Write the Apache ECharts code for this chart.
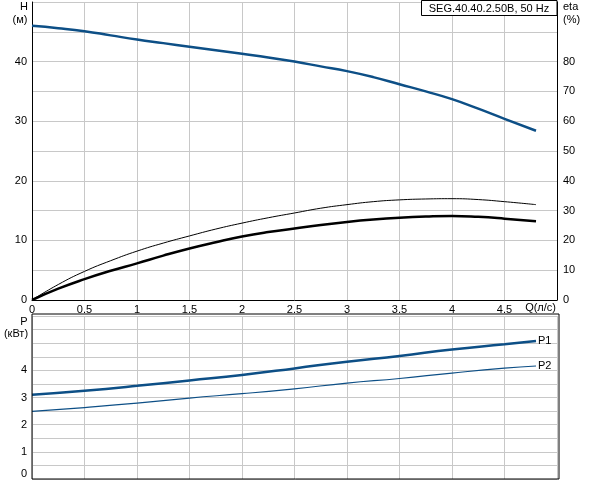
<!DOCTYPE html>
<html><head><meta charset="utf-8">
<script src="https://cdn.jsdelivr.net/npm/echarts@6/dist/echarts.min.js"></script>
<style>html,body{margin:0;padding:0;background:#fff}#c{width:592px;height:480px}</style>
</head><body><div id="c"></div>
<script>
const qH = [0,0.25,0.5,0.75,1,1.25,1.5,1.75,2,2.25,2.5,2.75,3,3.25,3.5,3.75,4,4.25,4.5,4.8];
const head = [46.0,45.6,45.1,44.4,43.7,43.1,42.5,41.9,41.3,40.7,40.0,39.2,38.4,37.4,36.2,35.0,33.7,32.1,30.4,28.4];
const etaThin = [0,5.2,9.6,13.2,16.4,19.1,21.5,23.8,25.8,27.6,29.2,30.8,32.0,33.0,33.6,33.9,34.0,33.7,33.0,32.0];
const etaThick = [0,3.8,7.0,9.8,12.3,14.9,17.3,19.4,21.3,22.8,24.0,25.2,26.2,27.0,27.6,28.0,28.2,27.9,27.3,26.4];
const qP = [0,0.5,1,1.5,2,2.5,3,3.5,4,4.5,4.8];
const p1 = [3.10,3.25,3.43,3.63,3.83,4.07,4.32,4.53,4.77,4.96,5.08];
const p2 = [2.49,2.63,2.79,2.98,3.14,3.32,3.53,3.70,3.90,4.08,4.16];
const title = 'SEG.40.40.2.50B, 50 Hz';

const FONT = 'Liberation Sans, Arial, sans-serif';
const BLUE = '#0d4f86';
const GRID = '#c8c8c8';
const zip = (a, b) => a.map((v, i) => [v, b[i]]);

const chart = echarts.init(document.getElementById('c'), null, {renderer: 'canvas'});
const txt = {color: '#000', fontFamily: FONT, fontSize: 11};
chart.setOption({
  animation: false,
  backgroundColor: '#fff',
  grid: [
    {left: 32, right: 35, top: 2, height: 298},
    {left: 32, right: 35, top: 316, height: 163}
  ],
  xAxis: [
    {gridIndex: 0, type: 'value', min: 0, max: 5, interval: 0.5,
     axisLine: {show: true, onZero: false, lineStyle: {color: '#000', width: 1}},
     axisTick: {show: false},
     splitLine: {show: true, lineStyle: {color: GRID, width: 1}},
     axisLabel: Object.assign({margin: 4, formatter: v => v >= 5 ? '' : String(v)}, txt)},
    {gridIndex: 1, type: 'value', min: 0, max: 5, interval: 0.5,
     axisLine: {show: false}, axisTick: {show: false}, axisLabel: {show: false},
     splitLine: {show: true, lineStyle: {color: GRID, width: 1}}}
  ],
  yAxis: [
    {gridIndex: 0, type: 'value', min: 0, max: 50, interval: 5, position: 'left',
     axisLine: {show: true, lineStyle: {color: '#000', width: 1}},
     axisTick: {show: false},
     splitLine: {show: true, lineStyle: {color: GRID, width: 1}},
     axisLabel: Object.assign({margin: 5, formatter: v => (v % 10 === 0 && v < 50) ? String(v) : ''}, txt)},
    {gridIndex: 0, type: 'value', min: 0, max: 100, interval: 10, position: 'right',
     axisLine: {show: true, lineStyle: {color: '#000', width: 1}},
     axisTick: {show: false},
     splitLine: {show: false},
     axisLabel: Object.assign({margin: 6, formatter: v => v <= 80 ? String(v) : ''}, txt)},
    {gridIndex: 1, type: 'value', min: 0, max: 6, interval: 0.5, position: 'left',
     axisLine: {show: false}, axisTick: {show: false},
     splitLine: {show: true, lineStyle: {color: GRID, width: 1}},
     axisLabel: Object.assign({margin: 5, verticalAlignMinLabel: 'bottom',
       formatter: v => (Number.isInteger(v) && v <= 4) ? String(v) : ''}, txt)}
  ],
  series: [
    {type: 'line', xAxisIndex: 0, yAxisIndex: 0, data: zip(qH, head), smooth: true, symbol: 'none',
     lineStyle: {color: BLUE, width: 2.5}},
    {type: 'line', xAxisIndex: 0, yAxisIndex: 1, data: zip(qH, etaThin), smooth: true, symbol: 'none',
     lineStyle: {color: '#000', width: 1}},
    {type: 'line', xAxisIndex: 0, yAxisIndex: 1, data: zip(qH, etaThick), smooth: true, symbol: 'none',
     lineStyle: {color: '#000', width: 2.5}},
    {type: 'line', xAxisIndex: 1, yAxisIndex: 2, data: zip(qP, p1), smooth: true, symbol: 'none',
     lineStyle: {color: BLUE, width: 2.5},
     endLabel: Object.assign({show: true, formatter: 'P1', distance: 2}, txt)},
    {type: 'line', xAxisIndex: 1, yAxisIndex: 2, data: zip(qP, p2), smooth: true, symbol: 'none',
     lineStyle: {color: BLUE, width: 1.2},
     endLabel: Object.assign({show: true, formatter: 'P2', distance: 2}, txt)}
  ],
  graphic: [
    {type: 'rect', shape: {x: 32, y: 314, width: 527, height: 165}, z: 50, silent: true,
     style: {fill: 'none', stroke: '#000', lineWidth: 1}},
    {type: 'rect', shape: {x: 421.5, y: 0.5, width: 135.5, height: 15}, z: 50,
     style: {fill: '#fff', stroke: '#000', lineWidth: 1}},
    {type: 'text', x: 489, y: 8.5, z: 51, style: {text: title, fill: '#000', font: '11px ' + FONT, textAlign: 'center', textVerticalAlign: 'middle'}},
    {type: 'text', x: 24, y: 7, style: {text: 'H', fill: '#000', font: '11px ' + FONT, textAlign: 'center', textVerticalAlign: 'middle'}},
    {type: 'text', x: 20, y: 20, style: {text: '(м)', fill: '#000', font: '11px ' + FONT, textAlign: 'center', textVerticalAlign: 'middle'}},
    {type: 'text', x: 563, y: 7, style: {text: 'eta', fill: '#000', font: '11px ' + FONT, textAlign: 'left', textVerticalAlign: 'middle'}},
    {type: 'text', x: 563, y: 20, style: {text: '(%)', fill: '#000', font: '11px ' + FONT, textAlign: 'left', textVerticalAlign: 'middle'}},
    {type: 'text', x: 24, y: 322, style: {text: 'P', fill: '#000', font: '11px ' + FONT, textAlign: 'center', textVerticalAlign: 'middle'}},
    {type: 'text', x: 16, y: 334, style: {text: '(кВт)', fill: '#000', font: '11px ' + FONT, textAlign: 'center', textVerticalAlign: 'middle'}},
    {type: 'text', x: 556, y: 308, style: {text: 'Q(л/с)', fill: '#000', font: '11px ' + FONT, textAlign: 'right', textVerticalAlign: 'middle'}}
  ]
});
</script></body></html>
